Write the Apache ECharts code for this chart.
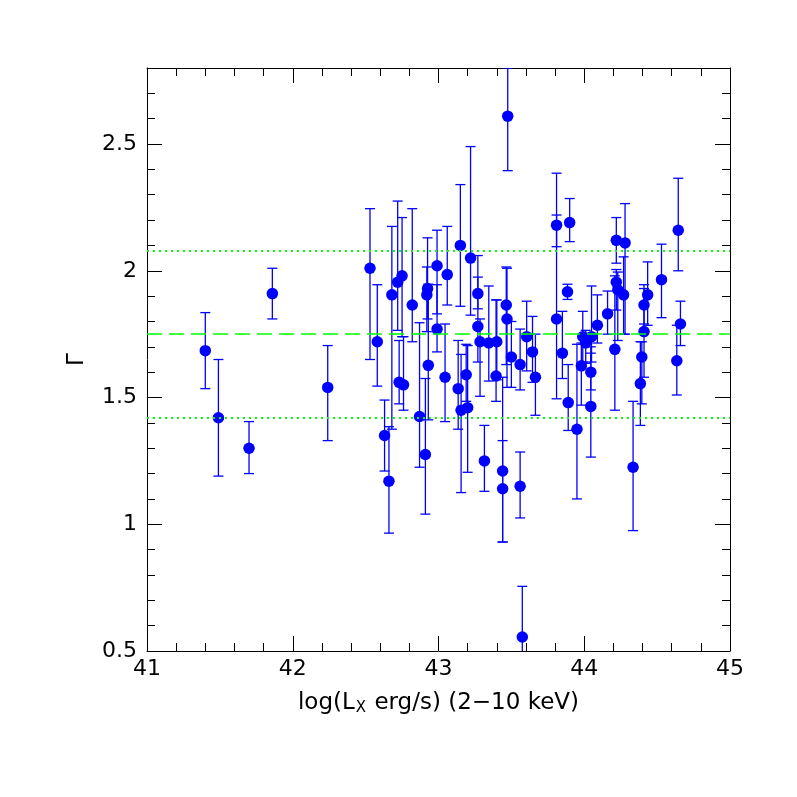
<!DOCTYPE html>
<html>
<head>
<meta charset="utf-8">
<script src="https://cdn.jsdelivr.net/npm/echarts@6/dist/echarts.min.js"></script>
<style>html,body{margin:0;padding:0;background:#fff;}#c{width:797px;height:797px;}</style>
</head>
<body>
<div id="c"></div>
<script>
const xVals = [41.40,41.49,41.70,41.86,42.24,42.53,42.58,42.63,42.66,42.68,42.72,42.73,42.75,42.76,42.82,42.87,42.91,42.92,42.925,42.93,42.99,42.99,43.045,43.06,43.135,43.15,43.155,43.19,43.20,43.22,43.27,43.27,43.285,43.315,43.345,43.40,43.395,43.44,43.44,43.465,43.47,43.475,43.50,43.56,43.56,43.575,43.605,43.645,43.665,43.81,43.81,43.85,43.885,43.89,43.90,43.95,43.98,43.99,44.01,44.045,44.045,44.05,44.09,44.16,44.21,44.22,44.22,44.23,44.27,44.28,44.335,44.385,44.395,44.41,44.41,44.435,44.53,44.635,44.645,44.66];
const gammaVals = [1.685,1.42,1.30,1.91,1.54,2.01,1.72,1.35,1.17,1.905,1.955,1.56,1.98,1.55,1.865,1.425,1.275,1.905,1.93,1.627,2.02,1.77,1.58,1.985,1.535,2.10,1.45,1.59,1.46,2.05,1.91,1.78,1.72,1.25,1.715,1.72,1.585,1.21,1.14,1.865,1.81,2.61,1.66,1.63,1.15,0.555,1.74,1.68,1.58,2.18,1.81,1.675,1.917,1.48,2.19,1.375,1.625,1.74,1.715,1.60,1.465,1.74,1.785,1.83,1.69,2.12,1.955,1.925,1.905,2.11,1.225,1.555,1.66,1.76,1.865,1.905,1.965,1.645,2.16,1.79];
const errUp = [0.15,0.23,0.105,0.10,0.165,0.235,0.225,0.14,0.215,0.27,0.32,0.165,0.23,0.19,0.38,0.37,0.30,0.11,0.20,0.32,0.14,0.175,0.21,0.19,0.19,0.24,0.22,0.12,0.245,0.44,0.15,0.195,0.09,0.14,0.225,0.165,0.30,0.12,0.44,0.15,0.20,0.19,0.14,0.14,0.135,0.20,0.14,0.14,0.17,0.205,0.41,0.165,0.03,0.15,0.095,0.335,0.09,0.10,0.05,0.10,0.21,0.20,0.12,0.09,0.29,0.09,0.05,0.07,0.15,0.155,0.26,0.165,0.06,0.17,0.08,0.13,0.14,0.14,0.205,0.09];
const errDown = [0.15,0.23,0.10,0.10,0.21,0.36,0.175,0.14,0.205,0.53,0.19,0.085,0.24,0.10,0.145,0.20,0.235,0.145,0.12,0.215,0.19,0.09,0.175,0.12,0.16,0.24,0.325,0.105,0.255,0.225,0.06,0.14,0.215,0.12,0.15,0.15,0.10,0.28,0.21,0.235,0.27,0.215,0.12,0.10,0.125,0.20,0.135,0.12,0.15,0.085,0.315,0.10,0.03,0.11,0.075,0.275,0.155,0.10,0.08,0.07,0.20,0.10,0.07,0.08,0.24,0.09,0.11,0.20,0.155,0.36,0.25,0.165,0.185,0.18,0.075,0.12,0.15,0.135,0.16,0.085];
const meanGamma = 1.75;
const bandLevels = [2.08, 1.42];
const xTickLabels = ['41','42','43','44','45'];
const yTickLabels = ['0.5','1','1.5','2','2.5'];

const FONT = 'DejaVu Sans';
const BLUE = '#0000ff';
const GREEN = '#00ff00';

const pts = xVals.map((x, i) => [x, gammaVals[i]]);
const errData = xVals.map((x, i) => [x, gammaVals[i], errUp[i], errDown[i]]);

function majorAxis(pos, showLabel, interval, min, max, extra) {
  return Object.assign({
    type: 'value', position: pos, min: min, max: max, interval: interval,
    axisLine: { show: true, onZero: false, lineStyle: { color: '#000', width: 1 } },
    axisTick: { show: true, inside: true, length: 15, lineStyle: { color: '#000', width: 1 } },
    axisLabel: { show: showLabel, fontFamily: FONT, fontSize: 22, color: '#000', showMaxLabel: showLabel ? undefined : false },
    splitLine: { show: false }
  }, extra || {});
}
function minorAxis(pos, interval, min, max) {
  return {
    type: 'value', position: pos, min: min, max: max, interval: interval,
    axisLine: { show: false },
    axisTick: { show: true, inside: true, length: 8, lineStyle: { color: '#000', width: 1 } },
    axisLabel: { show: false },
    splitLine: { show: false }
  };
}

const chart = echarts.init(document.getElementById('c'), null, { renderer: 'canvas' });
const option = {
  animation: false,
  backgroundColor: '#fff',
  grid: { left: 147, right: 67, top: 68, bottom: 146, containLabel: false },
  xAxis: [
    Object.assign(majorAxis('bottom', true, 1, 41, 45), {
      minorTick: { show: true, splitNumber: 5, length: 8, lineStyle: { color: '#000', width: 1 } },
      axisLabel: { show: true, fontFamily: FONT, fontSize: 22, color: '#000', margin: 7,
        formatter: (v) => { const i = Math.round(v - 41); return xTickLabels[i] !== undefined ? xTickLabels[i] : ''; } },
      name: '{a|log(L}{s|X}{a| erg/s) (2−10 keV)}',
      nameLocation: 'middle', nameGap: 40,
      nameTextStyle: { rich: {
        a: { fontFamily: FONT, fontSize: 23, color: '#000' },
        s: { fontFamily: FONT, fontSize: 15, color: '#000', verticalAlign: 'bottom', padding: [10, 1, 0, 1] }
      } }
    }),
    Object.assign(majorAxis('top', false, 1, 41, 45), {
      minorTick: { show: true, splitNumber: 5, length: 8, lineStyle: { color: '#000', width: 1 } }
    })
  ],
  yAxis: [
    Object.assign(majorAxis('left', true, 0.5, 0.5, 2.8), {
      axisLabel: { show: true, fontFamily: FONT, fontSize: 22, color: '#000', margin: 10, showMaxLabel: false,
        formatter: (v) => { const i = Math.round((v - 0.5) / 0.5); return (Math.abs(v - 0.5 - i * 0.5) < 1e-6 && yTickLabels[i] !== undefined) ? yTickLabels[i] : ''; } },
      name: 'Γ', nameLocation: 'middle', nameGap: 58, nameRotate: 90,
      nameTextStyle: { fontFamily: FONT, fontSize: 23, color: '#000' }
    }),
    minorAxis('left', 0.1, 0.5, 2.8),
    majorAxis('right', false, 0.5, 0.5, 2.8),
    minorAxis('right', 0.1, 0.5, 2.8)
  ],
  series: [
    {
      type: 'custom', xAxisIndex: 0, yAxisIndex: 0, z: 2, clip: true,
      data: errData,
      renderItem: function (params, api) {
        const x = api.value(0), y = api.value(1), up = api.value(2), dn = api.value(3);
        const top = api.coord([x, y + up]);
        const bot = api.coord([x, y - dn]);
        const cw = 5;
        const style = { stroke: BLUE, lineWidth: 1.3, fill: null };
        return {
          type: 'group',
          children: [
            { type: 'line', shape: { x1: top[0], y1: top[1], x2: bot[0], y2: bot[1] }, style: style },
            { type: 'line', shape: { x1: top[0] - cw, y1: top[1], x2: top[0] + cw, y2: top[1] }, style: style },
            { type: 'line', shape: { x1: bot[0] - cw, y1: bot[1], x2: bot[0] + cw, y2: bot[1] }, style: style }
          ]
        };
      }
    },
    {
      type: 'scatter', xAxisIndex: 0, yAxisIndex: 0, z: 3,
      data: pts, symbol: 'circle', symbolSize: 11.5,
      itemStyle: { color: BLUE, opacity: 1 },
      markLine: {
        silent: true, symbol: ['none', 'none'], label: { show: false },
        data: [
          { yAxis: meanGamma, lineStyle: { color: GREEN, type: [15, 7], width: 1.6 } },
          { yAxis: bandLevels[0], lineStyle: { color: GREEN, type: [2, 4], width: 1.8 } },
          { yAxis: bandLevels[1], lineStyle: { color: GREEN, type: [2, 4], width: 1.8 } }
        ]
      }
    }
  ]
};
chart.setOption(option);
</script>
</body>
</html>
